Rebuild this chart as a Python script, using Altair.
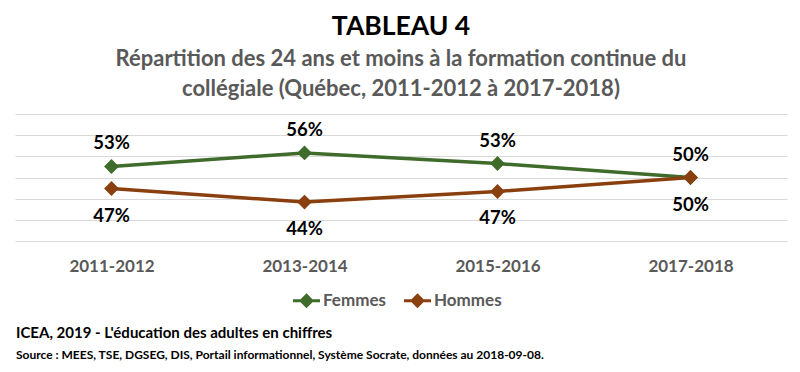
import altair as alt
import pandas as pd

years = ["2011-2012", "2013-2014", "2015-2016", "2017-2018"]
femmes = [52.6, 55.8, 53.3, 50.0]
hommes = [47.4, 44.2, 46.7, 50.0]
series = ["Femmes", "Hommes"]
colors = ["#3F6B2B", "#8A3F0F"]
grid_values = [35, 40, 45, 50, 55, 60, 65]

title_text = "TABLEAU 4"
subtitle_lines = [
    "Répartition des 24 ans et moins à la formation continue du",
    "collégiale (Québec, 2011-2012 à 2017-2018)",
]
footer1 = "ICEA, 2019 - L'éducation des adultes en chiffres"
footer2 = "Source : MEES,  TSE, DGSEG, DIS, Portail informationnel,  Système Socrate, données au 2018-09-08."

FONT = "Lato"

df = pd.DataFrame({
    "annee": years * 2,
    "serie": [series[0]] * len(years) + [series[1]] * len(years),
    "valeur": femmes + hommes,
})

legend_symbol = "M-1,-0.12L1,-0.12L1,0.12L-1,0.12Z M0,-0.55L0.55,0L0,0.55L-0.55,0Z"
legend = alt.Legend(
    title=None, orient="none", legendX=278, legendY=173, direction="horizontal",
    symbolType=legend_symbol, symbolSize=729, symbolStrokeWidth=0, symbolOpacity=1,
    labelFontSize=17, labelFont=FONT, labelFontWeight="bold", labelColor="#595959",
    columnPadding=18, labelOffset=3, padding=0,
)

x_enc = alt.X("annee:N", sort=years, scale=alt.Scale(type="point", padding=0.5),
              axis=alt.Axis(title=None, labelAngle=0, ticks=False, domain=False, grid=False,
                            labelFontSize=17, labelFont=FONT, labelFontWeight="bold",
                            labelColor="#595959", labelPadding=17))
y_enc = alt.Y("valeur:Q", scale=alt.Scale(domain=[35, 65], nice=False, zero=False),
              axis=alt.Axis(title=None, labels=False, ticks=False, domain=False, grid=True,
                            values=grid_values, gridColor="#D9D9D9", gridWidth=1))
color_enc = alt.Color("serie:N", scale=alt.Scale(domain=series, range=colors), legend=legend)

base = alt.Chart(df)

lines = base.mark_line(strokeWidth=3.5).encode(x=x_enc, y=y_enc, color=color_enc)
points = base.mark_point(shape="diamond", filled=True, size=220, opacity=1).encode(
    x=x_enc, y=y_enc, color=color_enc)

lab_f = base.transform_filter(alt.datum.serie == series[0]).transform_calculate(
    lab="format(datum.valeur, '.0f') + '%'"
).mark_text(dy=-23, fontSize=18.5, font=FONT, fontWeight="bold", color="black").encode(
    x=x_enc, y=y_enc, text="lab:N")
lab_h = base.transform_filter(alt.datum.serie == series[1]).transform_calculate(
    lab="format(datum.valeur, '.0f') + '%'"
).mark_text(dy=27, fontSize=18.5, font=FONT, fontWeight="bold", color="black").encode(
    x=x_enc, y=y_enc, text="lab:N")

foot1 = alt.Chart(pd.DataFrame({"t": [footer1]})).mark_text(
    align="left", baseline="middle", fontSize=15, font=FONT, fontWeight="bold", color="black"
).encode(x=alt.value(1), y=alt.value(219), text="t:N")
foot2 = alt.Chart(pd.DataFrame({"t": [footer2]})).mark_text(
    align="left", baseline="middle", fontSize=12, font=FONT, fontWeight="bold", color="black"
).encode(x=alt.value(1), y=alt.value(241), text="t:N")

chart = alt.layer(lines, points, lab_f, lab_h, foot1, foot2).properties(
    width=772, height=127,
    autosize=alt.AutoSizeParams(type="none"),
    padding={"left": 7, "top": 106, "right": 5, "bottom": 123},
    title=alt.TitleParams(
        text=title_text, subtitle=subtitle_lines, anchor="middle", frame="group",
        font=FONT, fontSize=26.5, fontWeight="bold", color="black",
        subtitleFont=FONT, subtitleFontSize=22, subtitleFontWeight="bold",
        subtitleColor="#595959", subtitleLineHeight=30, subtitlePadding=9, offset=14,
    ),
).configure(background="white").configure_view(stroke=None)

chart.save("out.html", embed_options={"renderer": "svg", "actions": False})
